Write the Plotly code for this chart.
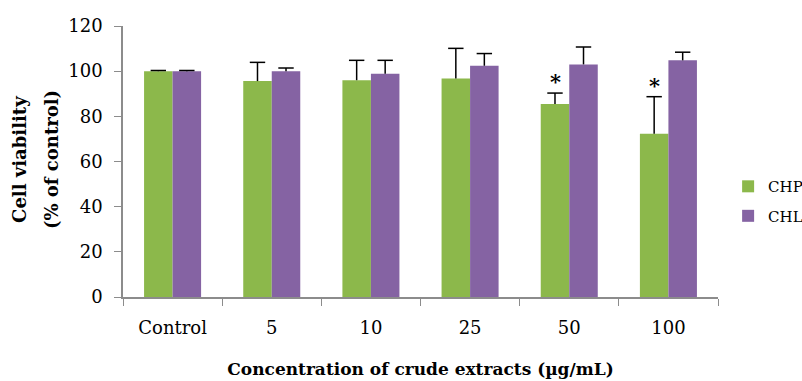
import plotly.graph_objects as go

categories = ["Control", "5", "10", "25", "50", "100"]
chp_values = [100, 95.6, 96.0, 96.8, 85.5, 72.3]
chp_errors = [0.3, 8.3, 8.8, 13.3, 4.8, 16.4]
chl_values = [100, 100, 98.9, 102.4, 103.0, 104.8]
chl_errors = [0.3, 1.4, 5.9, 5.4, 7.7, 3.6]
significant = ["50", "100"]
y_ticks = [0, 20, 40, 60, 80, 100, 120]

GREEN = "#8CB84B"
PURPLE = "#8563A3"
SERIF = "DejaVu Serif"
GAP = 0.425

series = [("CHP", chp_values, chp_errors, GREEN, "a"),
          ("CHL", chl_values, chl_errors, PURPLE, "b")]

fig = go.Figure()
for name, vals, errs, color, grp in series:
    fig.add_trace(go.Bar(
        name=name, x=categories, y=vals, marker_color=color, marker_line_width=0,
        legendgroup=grp,
        error_y=dict(type="data", array=errs, arrayminus=[0]*len(errs),
                     symmetric=False, color="black", thickness=1.5, width=0),
    ))
# top caps of the one-sided error bars
for name, vals, errs, color, grp in series:
    fig.add_trace(go.Scatter(
        x=categories, y=[v + e for v, e in zip(vals, errs)], mode="markers",
        marker=dict(symbol="line-ew", size=11, line=dict(width=1.5, color="black")),
        showlegend=False, hoverinfo="skip", legendgroup=grp,
    ))

for cat in significant:
    i = categories.index(cat)
    fig.add_annotation(x=i, y=chp_values[i] + chp_errors[i], text="<b>*</b>",
                       showarrow=False, xshift=-14, yshift=-3, yanchor="bottom",
                       font=dict(family=SERIF, size=21, color="black"))

fig.add_annotation(text="<b>Cell viability</b>", textangle=-90, showarrow=False,
                   xref="paper", yref="paper", x=-0.173, y=0.506,
                   xanchor="center", yanchor="middle",
                   font=dict(family=SERIF, size=18, color="black"))
fig.add_annotation(text="<b>(% of control)</b>", textangle=-90, showarrow=False,
                   xref="paper", yref="paper", x=-0.119, y=0.506,
                   xanchor="center", yanchor="middle",
                   font=dict(family=SERIF, size=18, color="black"))

fig.update_layout(
    width=802, height=381,
    margin=dict(l=123, r=84, t=26, b=84, autoexpand=False),
    paper_bgcolor="white", plot_bgcolor="white",
    barmode="group", bargap=GAP, bargroupgap=0,
    scattermode="group", scattergap=GAP,
    font=dict(family=SERIF, size=18, color="black"),
    legend=dict(x=1.017, y=0.354, xanchor="left", yanchor="middle",
                traceorder="grouped", tracegroupgap=7,
                font=dict(family=SERIF, size=15, color="black")),
    xaxis=dict(
        type="category", categoryorder="array", categoryarray=categories,
        range=[-0.5, len(categories) - 0.5],
        showline=True, linecolor="#8C8C8C", linewidth=1.5,
        ticks="outside", ticklen=7, tickcolor="#8C8C8C", tickson="boundaries",
        tickfont=dict(family=SERIF, size=18), ticklabelstandoff=14,
        title=dict(text="<b>Concentration of crude extracts (µg/mL)</b>",
                   font=dict(family=SERIF, size=17), standoff=26),
    ),
    yaxis=dict(
        range=[0, 120], tickvals=y_ticks,
        showline=True, linecolor="#8C8C8C", linewidth=1.5,
        ticks="outside", ticklen=7, tickcolor="#8C8C8C",
        showgrid=False, zeroline=False,
        tickfont=dict(family=SERIF, size=18), ticklabelstandoff=8,
    ),
)

fig.write_html("out.html")
